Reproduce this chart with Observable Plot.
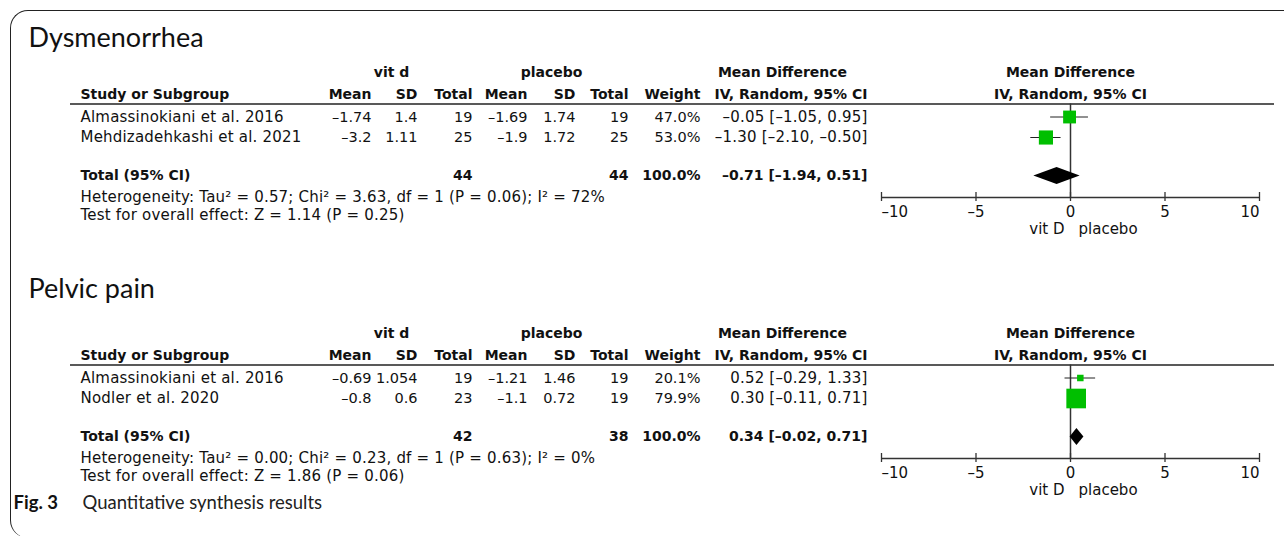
<!DOCTYPE html>
<html><head><meta charset="utf-8">
<script src="https://cdn.jsdelivr.net/npm/d3@7"></script>
<script src="https://cdn.jsdelivr.net/npm/@observablehq/plot@0.6"></script>
<style>
html,body{margin:0;padding:0;background:#fff;overflow:hidden}
#fig{position:relative;width:1284px;height:536px;overflow:hidden;background:#fff}
#frame{position:absolute;left:10px;top:10px;width:1400px;height:528px;border-left:1.5px solid #222;border-top:1.5px solid #222;border-radius:18px 0 0 18px;box-sizing:border-box}
.layer{position:absolute;top:0}
#tbl g[font-size="15"] text{letter-spacing:0.2px}
</style></head><body>
<div id="fig"><div id="frame"></div></div>
<script>
// ---------- data ----------
const panelTitles = ["Dysmenorrhea", "Pelvic pain"];
const groupHeaders = ["vit d", "placebo", "Mean Difference"];
const colHeaders = ["Study or Subgroup", "Mean", "SD", "Total", "Mean", "SD", "Total", "Weight", "IV, Random, 95% CI"];
const totalLabel = "Total (95% CI)";
const axisTicks = [-10, -5, 0, 5, 10];
const favours = ["vit D", "placebo"];
const caption = ["Fig. 3", "Quantitative synthesis results"];

const dysStudies = ["Almassinokiani et al. 2016", "Mehdizadehkashi et al. 2021"];
const dysVitMean = [-1.74, -3.2];
const dysVitSD = [1.4, 1.11];
const dysVitN = [19, 25];
const dysPlaMean = [-1.69, -1.9];
const dysPlaSD = [1.74, 1.72];
const dysPlaN = [19, 25];
const dysWeight = [47.0, 53.0];
const dysMD = [-0.05, -1.30];
const dysLo = [-1.05, -2.10];
const dysHi = [0.95, -0.50];
const dysTotal = [44, 44, 100.0, -0.71, -1.94, 0.51]; // nVit, nPla, weight, md, lo, hi
const dysHet = "Heterogeneity: Tau² = 0.57; Chi² = 3.63, df = 1 (P = 0.06); I² = 72%";
const dysEffect = "Test for overall effect: Z = 1.14 (P = 0.25)";

const pelStudies = ["Almassinokiani et al. 2016", "Nodler et al. 2020"];
const pelVitMean = [-0.69, -0.8];
const pelVitSD = [1.054, 0.6];
const pelVitN = [19, 23];
const pelPlaMean = [-1.21, -1.1];
const pelPlaSD = [1.46, 0.72];
const pelPlaN = [19, 19];
const pelWeight = [20.1, 79.9];
const pelMD = [0.52, 0.30];
const pelLo = [-0.29, -0.11];
const pelHi = [1.33, 0.71];
const pelTotal = [42, 38, 100.0, 0.34, -0.02, 0.71];
const pelHet = "Heterogeneity: Tau² = 0.00; Chi² = 0.23, df = 1 (P = 0.63); I² = 0%";
const pelEffect = "Test for overall effect: Z = 1.86 (P = 0.06)";

// ---------- assembled tables ----------
const panels = [
  {title: panelTitles[0], studies: dysStudies, vm: dysVitMean, vs: dysVitSD, vn: dysVitN, pm: dysPlaMean, ps: dysPlaSD, pn: dysPlaN, w: dysWeight, md: dysMD, lo: dysLo, hi: dysHi, tot: dysTotal, het: dysHet, eff: dysEffect},
  {title: panelTitles[1], studies: pelStudies, vm: pelVitMean, vs: pelVitSD, vn: pelVitN, pm: pelPlaMean, ps: pelPlaSD, pn: pelPlaN, w: pelWeight, md: pelMD, lo: pelLo, hi: pelHi, tot: pelTotal, het: pelHet, eff: pelEffect}
];

// ---------- layout (page pixels) ----------
const colX = {study: 80, vm: 371, vs: 417, vn: 472, pm: 527, ps: 575, pn: 628, w: 700, ci: 867};
const grpX = [391, 551, 782];
const rowY = {title: 38, grp: 72, hdr: 94, line: 103.5, rows: [116.5, 137], tot: 175.5, het: 197, test: 215, axis: 197, tickLab: 212, fav: 229};
const panelOff = [0, 261];
const lineX = [70, 1274];
const FONT = "DejaVu Sans";
const TITLEFONT = "Lato";
const INK = "#111";
const REG = 15, NUM = 14.5, BOLD = 14;

const dash = s => String(s).replace("-", "\u2013");
const f2 = v => dash(v.toFixed(2));
const ciStr = (m, l, h) => `${f2(m)} [${f2(l)}, ${f2(h)}]`;

const regStart = [], numEnd = [], ciEnd = [], boldEnd = [], boldStart = [], boldMid = [];
const lines = [];
panels.forEach((p, k) => {
  const o = panelOff[k];
  groupHeaders.forEach((g, i) => boldMid.push({x: grpX[i], y: rowY.grp + o, t: g}));
  const keys = ["study", "vm", "vs", "vn", "pm", "ps", "pn", "w", "ci"];
  colHeaders.forEach((h, i) => (i === 0 ? boldStart : boldEnd).push({x: colX[keys[i]], y: rowY.hdr + o, t: h}));
  lines.push({y: rowY.line + o});
  p.studies.forEach((s, i) => {
    const y = rowY.rows[i] + o;
    regStart.push({x: colX.study, y, t: s});
    numEnd.push({x: colX.vm, y, t: dash(p.vm[i])});
    numEnd.push({x: colX.vs, y, t: dash(p.vs[i])});
    numEnd.push({x: colX.vn, y, t: String(p.vn[i])});
    numEnd.push({x: colX.pm, y, t: dash(p.pm[i])});
    numEnd.push({x: colX.ps, y, t: dash(p.ps[i])});
    numEnd.push({x: colX.pn, y, t: String(p.pn[i])});
    numEnd.push({x: colX.w, y, t: p.w[i].toFixed(1) + "%"});
    ciEnd.push({x: colX.ci, y, t: ciStr(p.md[i], p.lo[i], p.hi[i])});
  });
  const yt = rowY.tot + o;
  boldStart.push({x: colX.study, y: yt, t: totalLabel});
  boldEnd.push({x: colX.vn, y: yt, t: String(p.tot[0])});
  boldEnd.push({x: colX.pn, y: yt, t: String(p.tot[1])});
  boldEnd.push({x: colX.w, y: yt, t: p.tot[2].toFixed(1) + "%"});
  boldEnd.push({x: colX.ci, y: yt, t: ciStr(p.tot[3], p.tot[4], p.tot[5])});
  regStart.push({x: colX.study, y: rowY.het + o, t: p.het});
  regStart.push({x: colX.study, y: rowY.test + o, t: p.eff});
});
const titles = panels.map((p, k) => ({x: 28, y: rowY.title + panelOff[k] - (k ? 10 : 0), t: p.title}));

const txt = (data, anchor, weight, size) => Plot.text(data, {x: "x", y: "y", text: "t", textAnchor: anchor, fontWeight: weight, fontFamily: FONT, fontSize: size, fill: INK});

const tbl = Plot.plot({
  width: 1284, height: 536, margin: 0,
  x: {type: "identity", axis: null},
  y: {type: "identity", axis: null},
  marks: [
    Plot.ruleY(lines, {y: "y", x1: () => lineX[0], x2: () => lineX[1], stroke: "#222", strokeWidth: 1.3}),
    txt(regStart, "start", "normal", REG),
    txt(numEnd, "end", "normal", NUM),
    txt(ciEnd, "end", "normal", REG),
    txt(boldStart, "start", "bold", BOLD),
    txt(boldEnd, "end", "bold", BOLD),
    txt(boldMid, "middle", "bold", BOLD),
    Plot.text(titles, {x: "x", y: "y", text: "t", textAnchor: "start", fontFamily: TITLEFONT, fontSize: 27, fill: INK}),
    Plot.text([{x: 13, y: 503, t: caption[0]}], {x: "x", y: "y", text: "t", textAnchor: "start", fontFamily: TITLEFONT, fontWeight: "bold", fontSize: 18.5, fill: INK}),
    Plot.text([{x: 82, y: 503, t: caption[1]}], {x: "x", y: "y", text: "t", textAnchor: "start", fontFamily: TITLEFONT, fontSize: 18.5, fill: "#222"})
  ]
});
tbl.id = "tbl";
tbl.classList.add("layer");
tbl.style.left = "0px";
tbl.style.background = "transparent";
document.getElementById("fig").appendChild(tbl);

// ---------- forest ----------
const studyPts = [], totPts = [], axes = [], tickRules = [], tickLabs = [], zeroLines = [], favLabs = [], fheads = [];
const H = 8.5;
panels.forEach((p, k) => {
  const o = panelOff[k];
  p.studies.forEach((s, i) => studyPts.push({md: p.md[i], lo: p.lo[i], hi: p.hi[i], w: p.w[i], y: rowY.rows[i] + o}));
  const yt = rowY.tot + o;
  totPts.push({k, x: p.tot[4], y1: yt, y2: yt}, {k, x: p.tot[3], y1: yt - H, y2: yt + H}, {k, x: p.tot[5], y1: yt, y2: yt});
  axes.push({y: rowY.axis + o});
  zeroLines.push({y1: rowY.line + o, y2: rowY.axis + o});
  axisTicks.forEach(t => { tickRules.push({x: t, y1: rowY.axis + o - 5, y2: rowY.axis + o + 4}); tickLabs.push({x: t, y: rowY.tickLab + o, t: dash(t)}); });
  favLabs.push({y: rowY.fav + o});
  fheads.push({y: rowY.grp + o, t: groupHeaders[2]}, {y: rowY.hdr + o, t: colHeaders[8]});
});
const tmin = d3.min(axisTicks), tmax = d3.max(axisTicks);

const forest = Plot.plot({
  width: 424, height: 536, marginLeft: 21, marginRight: 25, marginTop: 0, marginBottom: 0,
  x: {domain: [tmin, tmax], axis: null},
  y: {type: "identity", axis: null},
  r: {type: "pow", exponent: 0.8, domain: [0, 100], range: [0, 13.26]},
  marks: [
    Plot.ruleX(zeroLines, {x: () => 0, y1: "y1", y2: "y2", stroke: "#333", strokeWidth: 1.5}),
    Plot.ruleY(axes, {y: "y", x1: () => tmin, x2: () => tmax, stroke: "#333", strokeWidth: 1.5}),
    Plot.ruleX(tickRules, {x: "x", y1: "y1", y2: "y2", stroke: "#333", strokeWidth: 1.3}),
    Plot.text(tickLabs.filter(d => d.x === tmin), {x: "x", y: "y", text: "t", textAnchor: "start", fontFamily: FONT, fontSize: REG, fill: INK}),
    Plot.text(tickLabs.filter(d => d.x === tmax), {x: "x", y: "y", text: "t", textAnchor: "end", fontFamily: FONT, fontSize: REG, fill: INK}),
    Plot.text(tickLabs.filter(d => d.x !== tmin && d.x !== tmax), {x: "x", y: "y", text: "t", textAnchor: "middle", fontFamily: FONT, fontSize: REG, fill: INK}),
    Plot.text(favLabs, {x: () => 0, y: "y", text: () => favours[0], textAnchor: "end", dx: -6, fontFamily: FONT, fontSize: REG, fill: INK}),
    Plot.text(favLabs, {x: () => 0, y: "y", text: () => favours[1], textAnchor: "start", dx: 8, fontFamily: FONT, fontSize: REG, fill: INK}),
    Plot.text(fheads, {x: () => 0, y: "y", text: "t", textAnchor: "middle", fontWeight: "bold", fontFamily: FONT, fontSize: BOLD, fill: INK}),
    Plot.ruleY(studyPts, {y: "y", x1: "lo", x2: "hi", stroke: "#222", strokeWidth: 1}),
    Plot.dot(studyPts, {x: "md", y: "y", r: "w", symbol: "square", fill: "#00bf00"}),
    Plot.areaY(totPts, {x: "x", y1: "y1", y2: "y2", z: "k", fill: "#000"})
  ]
});
forest.classList.add("layer");
forest.style.left = "860px";
forest.style.background = "transparent";
document.getElementById("fig").appendChild(forest);
</script>
</body></html>
